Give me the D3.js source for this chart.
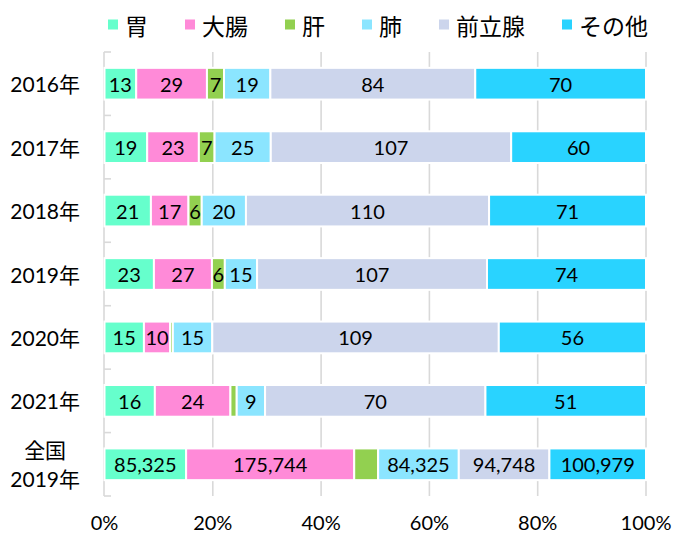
<!DOCTYPE html>
<html><head><meta charset="utf-8">
<script src="https://cdn.jsdelivr.net/npm/d3@7"></script>
<style>
html,body{margin:0;padding:0;background:#fff;}
svg{display:block;}
text{font-family:Lato,"Noto Sans CJK JP",sans-serif;fill:#000;}
</style></head>
<body><svg id="c" width="676" height="535"></svg>
<script>
const categories = ["2016年","2017年","2018年","2019年","2020年","2021年","全国\n2019年"];
const seriesNames = ["胃","大腸","肝","肺","前立腺","その他"];
const stomach  = [13,19,21,23,15,16,85325];
const colon    = [29,23,17,27,10,24,175744];
const liver    = [7,7,6,6,1,2,25000];
const lung     = [19,25,20,15,15,9,84325];
const prostate = [84,107,110,107,109,70,94748];
const other    = [70,60,71,74,56,51,100979];
const xTicks = [0,0.2,0.4,0.6,0.8,1.0];
const colors = ["#66FFCC","#FF8AD8","#92D050","#8BE5FF","#CCD5EC","#29D3FF"];

const seriesValues = [stomach,colon,liver,lung,prostate,other];
const rows = categories.map((c,i)=>{
  const r = {cat:c};
  seriesNames.forEach((s,j)=>r[s]=seriesValues[j][i]);
  return r;
});
const stack = d3.stack().keys(seriesNames).offset(d3.stackOffsetExpand);
const stacked = stack(rows);

const svg = d3.select("#c");
const x = d3.scaleLinear().domain([0,1]).range([104.5,646]);
const y = d3.scaleBand().domain(categories).range([52,496]).paddingInner(0.5).paddingOuter(0.25);
const step = y.step();

// gridlines
svg.append("g").selectAll("line").data(xTicks.slice(1)).join("line")
  .attr("x1",d=>x(d)).attr("x2",d=>x(d)).attr("y1",52).attr("y2",496)
  .attr("stroke","#d9d9d9").attr("stroke-width",1.6);

// category axis line and ticks
const ax = svg.append("g");
ax.append("line").attr("x1",104).attr("x2",104).attr("y1",52).attr("y2",496)
  .attr("stroke","#d9d9d9").attr("stroke-width",1.6);
ax.selectAll("line.t").data(d3.range(categories.length+1)).join("line").attr("class","t")
  .attr("x1",104).attr("x2",111).attr("y1",i=>52+i*step).attr("y2",i=>52+i*step)
  .attr("stroke","#d9d9d9").attr("stroke-width",1.6);

// bars
const g = svg.append("g");
stacked.forEach((s,j)=>{
  g.append("g").selectAll("rect").data(s).join("rect")
    .attr("x",d=>x(d[0])).attr("width",d=>Math.max(0,x(d[1])-x(d[0])))
    .attr("y",d=>y(d.data.cat)).attr("height",y.bandwidth())
    .attr("fill",colors[j]).attr("stroke","#fff").attr("stroke-width",2);
});
// labels
const fmt = d3.format(",");
stacked.forEach((s,j)=>{
  s.forEach(d=>{
    const w = x(d[1])-x(d[0]);
    const t = g.append("text")
      .attr("x",(x(d[0])+x(d[1]))/2).attr("y",y(d.data.cat)+y.bandwidth()/2)
      .attr("text-anchor","middle").attr("dominant-baseline","central")
      .style("font-size","20px").text(fmt(d.data[s.key]));
    if (t.node().getComputedTextLength() > w - 1) t.remove();
  });
});

// category labels
categories.forEach(c=>{
  const lines = c.split("\n");
  const cy = y(c)+y.bandwidth()/2;
  const lh = 29;
  const grp = svg.append("g");
  const ts = lines.map((l,k)=>grp.append("text").attr("y",cy+(k-(lines.length-1)/2)*lh)
    .attr("dominant-baseline","central").attr("text-anchor","middle")
    .style("font-size","21px").text(l));
  const w = d3.max(ts,t=>t.node().getComputedTextLength());
  ts.forEach(t=>t.attr("x",80-w/2));
});

// x tick labels
svg.append("g").selectAll("text").data(xTicks).join("text")
  .attr("x",d=>x(d)).attr("y",530).attr("text-anchor","middle")
  .style("font-size","20px").text(d=>d3.format(".0%")(d));

// legend
const leg = svg.append("g");
let lx = 108;
seriesNames.forEach((s,j)=>{
  leg.append("rect").attr("x",lx).attr("y",19.5).attr("width",10).attr("height",10).attr("fill",colors[j]);
  const t = leg.append("text").attr("x",lx+17).attr("y",25).attr("dominant-baseline","central")
    .style("font-size","23px").style("font-family","'Noto Sans CJK JP',sans-serif").text(s);
  lx += 17 + t.node().getComputedTextLength() + 37;
});
</script></body></html>
